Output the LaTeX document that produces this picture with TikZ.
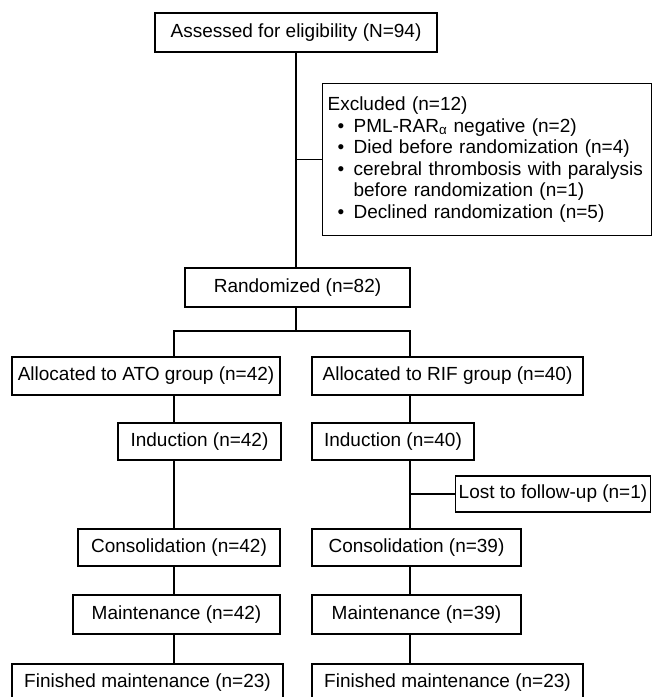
\documentclass[tikz,border=0pt]{standalone}
\usepackage{fontspec}
\setmainfont{Liberation Sans}
\usepackage{tikz}
\newcommand{\bul}{\makebox[26pt][l]{\hspace{10pt}\textbullet}}

\begin{document}
\begin{tikzpicture}[x=1pt, y=-1pt, line width=1.2pt]
\tikzstyle{every node}=[draw, shape=rectangle, minimum height=38, inner sep=0pt, font=\fontsize{19}{21.5}\selectfont];
\useasboundingbox (0,0) rectangle (652,697);
\clip (0,0) rectangle (652,697);
\path (296,32.5) node[minimum width=282, minimum height=39] (assessed) {Assessed for eligibility (N=94)};
\path (322,83) node[anchor=north west, minimum width=329, minimum height=152, text width=319, inner xsep=5pt, align=left] (excluded)
{Excluded (n=12)\\
\bul PML-RAR\textsubscript{α} negative (n=2)\\
\bul Died before randomization (n=4)\\
\bul cerebral thrombosis with paralysis\\
\hspace*{26pt}before randomization (n=1)\\
\bul Declined randomization (n=5)};
\path (297.5,287.5) node[minimum width=225, minimum height=39] (randomized) {Randomized (n=82)};
\path (146,376) node[minimum width=268] (ato) {Allocated to ATO group (n=42)};
\path (447.5,376) node[minimum width=271] (rif) {Allocated to RIF group (n=40)};
\path (199.5,441.5) node[minimum width=163, minimum height=37] (indA) {Induction (n=42)};
\path (393,441.5) node[minimum width=162, minimum height=37] (indR) {Induction (n=40)};
\path (553,494) node[minimum width=195, minimum height=36] (lost) {Lost to follow-up (n=1)};
\path (179,547.5) node[minimum width=202, minimum height=37] (conA) {Consolidation (n=42)};
\path (416.5,547.5) node[minimum width=209, minimum height=37] (conR) {Consolidation (n=39)};
\path (176.5,614.5) node[minimum width=207, minimum height=39] (mntA) {Maintenance (n=42)};
\path (416.5,614.5) node[minimum width=209, minimum height=39] (mntR) {Maintenance (n=39)};
\path (147.5,683) node[minimum width=271] (finA) {Finished maintenance (n=23)};
\path (447.5,683) node[minimum width=271] (finR) {Finished maintenance (n=23)};
\coordinate (sA) at (174,331);
\coordinate (sR) at (410,331);
\draw
(assessed.south) -- (assessed.south |- randomized.north)
(excluded.west) -- (excluded.west -| assessed.south)
(randomized.south -| assessed.south) -- (assessed.south |- sA)
(ato.north -| sA) -- (sA) -- (sR) -- (rif.north -| sR)
(lost.west) -- (lost.west -| sR);
\foreach \a/\b in {ato/indA, indA/conA, conA/mntA, mntA/finA}
{
\draw (\a.south -| sA) -- (\b.north -| sA);
}
\foreach \a/\b in {rif/indR, indR/conR, conR/mntR, mntR/finR}
{
\draw (\a.south -| sR) -- (\b.north -| sR);
}
\end{tikzpicture}
\end{document}
